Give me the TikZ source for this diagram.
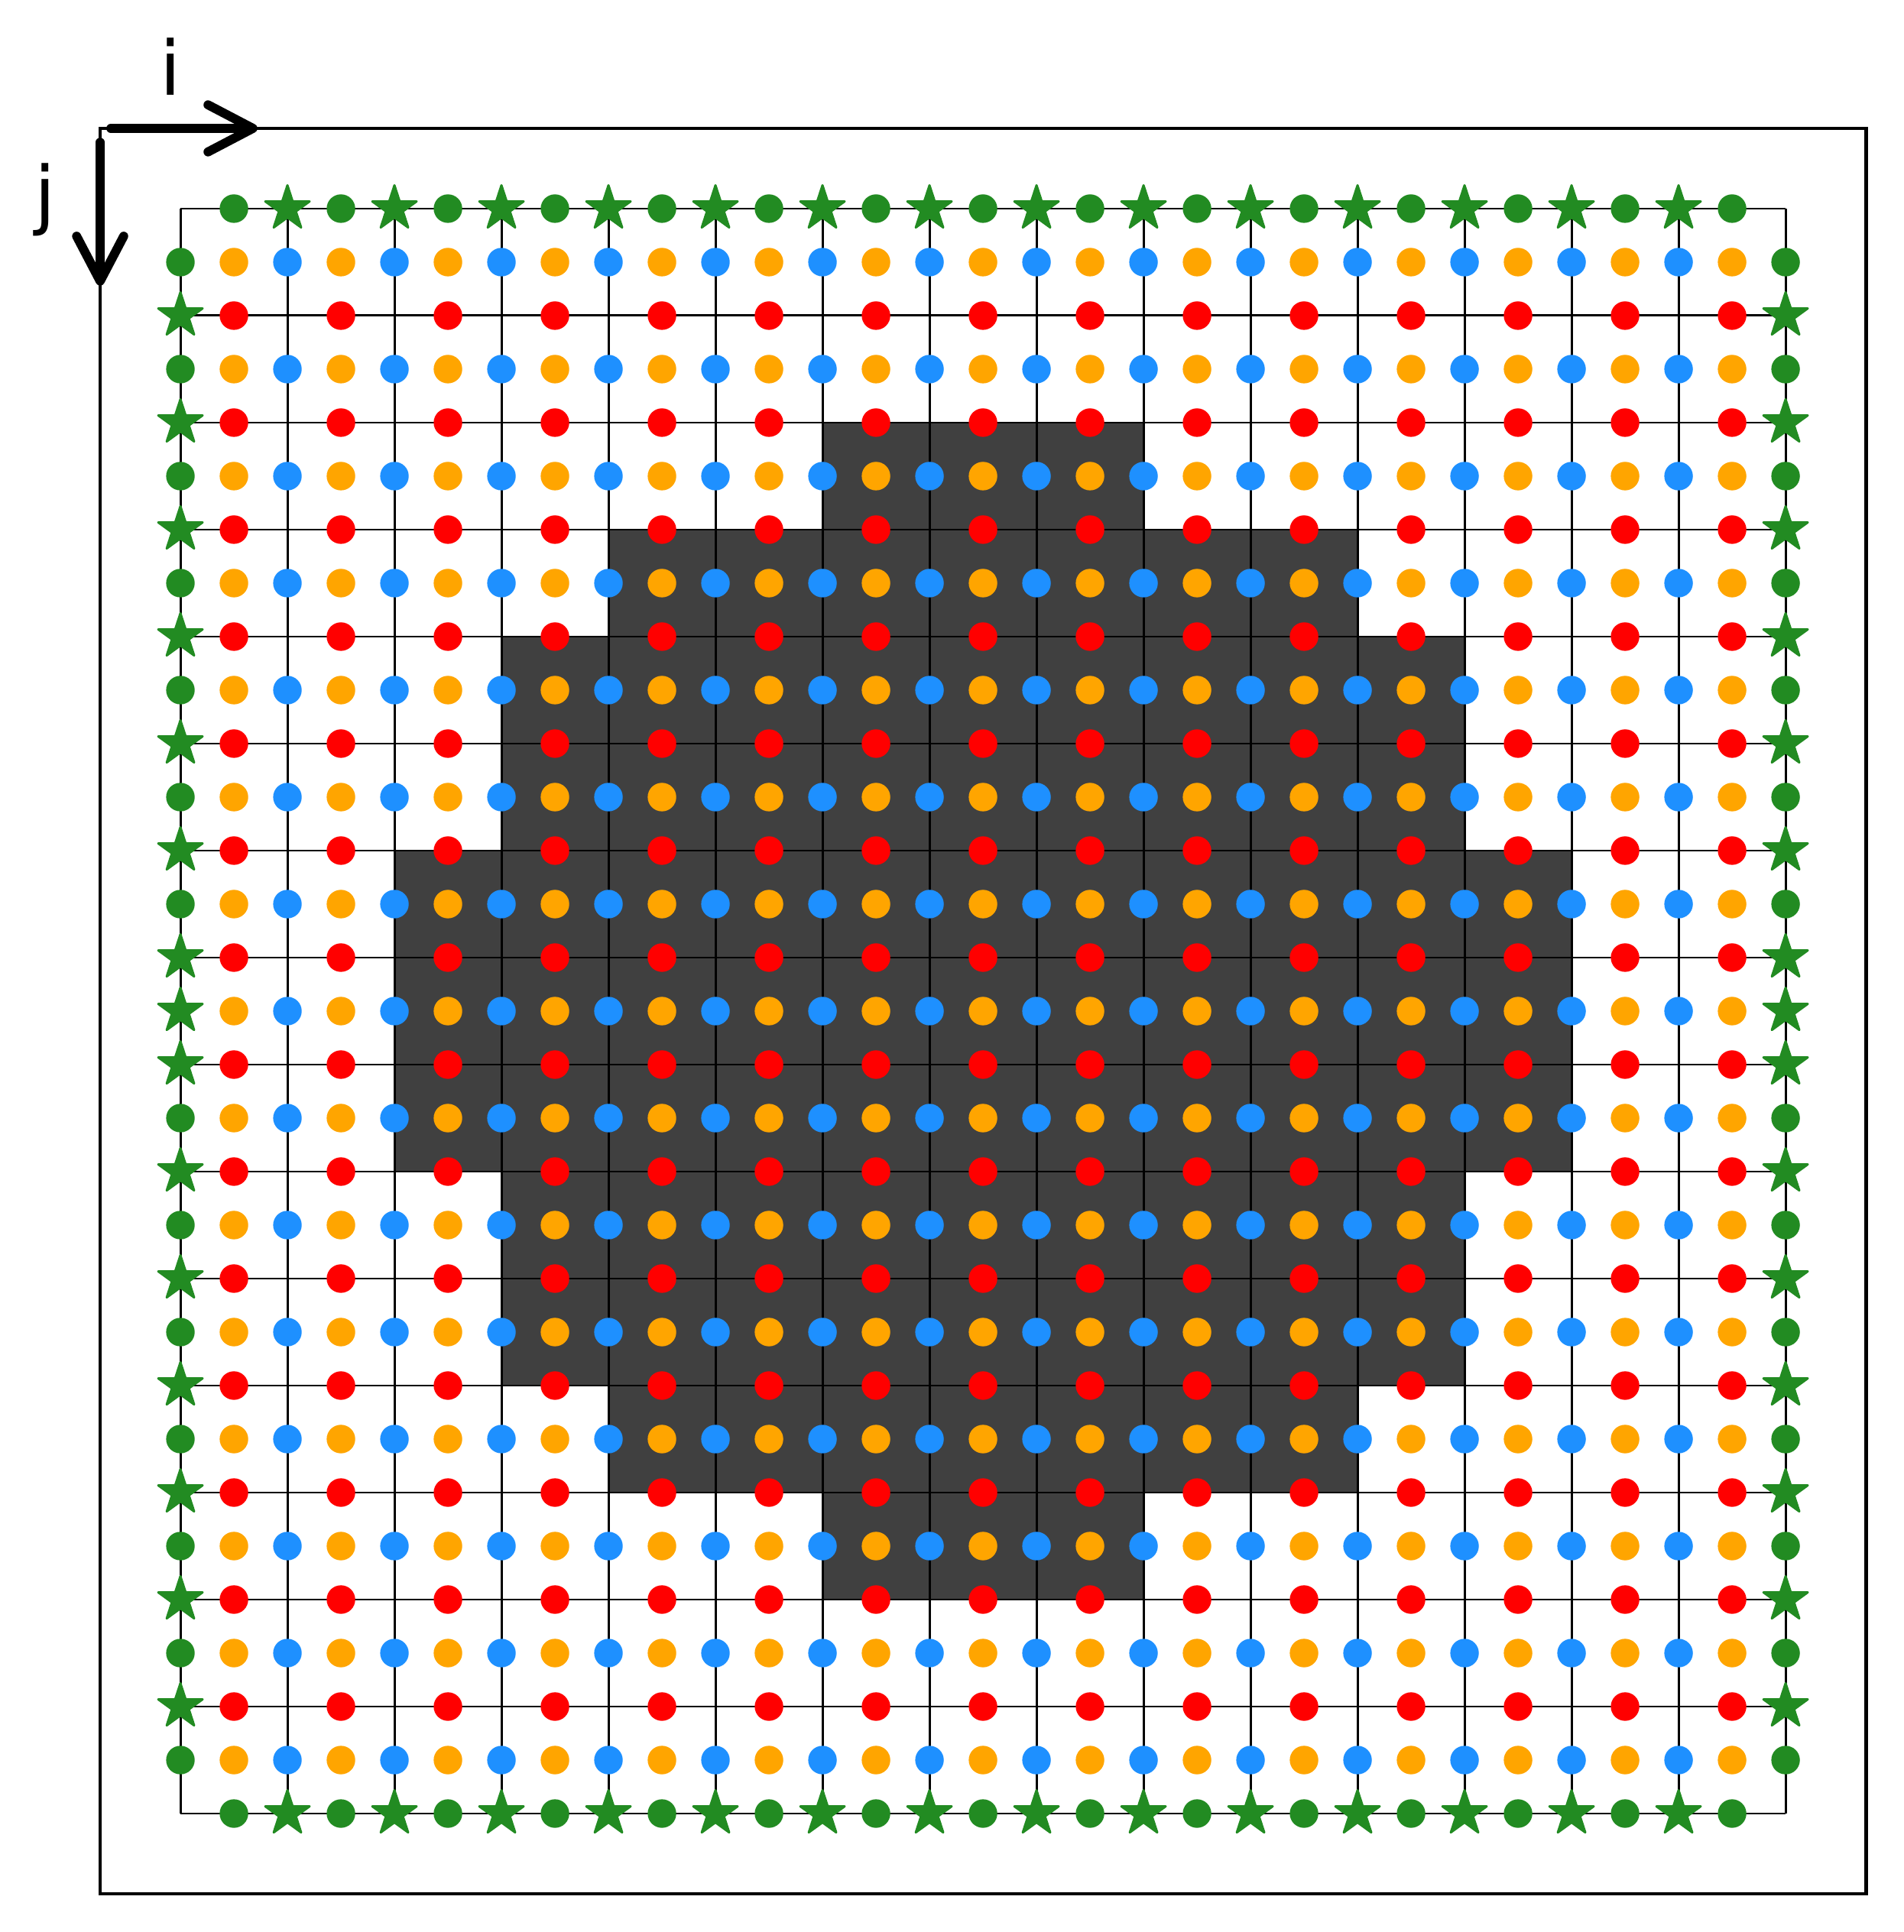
\documentclass[tikz,border=0pt]{standalone}
\usepackage{fontspec}
\setmainfont{DejaVu Sans}
\usetikzlibrary{arrows.meta,shapes.geometric}
\definecolor{fgreen}{RGB}{34,139,34}
\definecolor{dblue}{RGB}{30,144,255}
\definecolor{orng}{RGB}{255,165,0}
\definecolor{cellgray}{RGB}{64,64,64}
\tikzset{
  dot/.style={circle,fill=#1,inner sep=0pt,minimum size=0.267cm},
  bstar/.style={star,star points=5,star point ratio=2.618,fill=fgreen,draw=fgreen,
    line width=0.6pt,line join=round,inner sep=0pt,minimum size=0.436cm},
  axis/.style={line width=2.4pt,line cap=round,
    -{Straight Barb[length=0.42cm,width=0.44cm,line cap=round,line join=round]}},
  lbl/.style={anchor=base,font=\fontsize{20}{24}\selectfont}
}
\begin{document}
\begin{tikzpicture}
\useasboundingbox (-1.686,-1.107) rectangle (16.1,16.95);

% solid cells
\fill[cellgray] (6,12) rectangle (9,13) (4,11) rectangle (11,12)
  (3,9) rectangle (12,11) (2,6) rectangle (13,9) (3,4) rectangle (12,6)
  (4,3) rectangle (11,4) (6,2) rectangle (9,3);

\draw[line width=0.6pt] (0,0) grid (15,15);
\draw[line width=1pt] (-0.75,-0.75) rectangle (15.75,15.75);

% axes
\coordinate (corner) at (-0.75,15.75);
\coordinate (iend) at (0.72,15.75);
\coordinate (jend) at (-0.75,14.28);
\draw[axis,shorten <=0.1cm] (corner) -- (iend);
\draw[axis,shorten <=0.13cm] (corner) -- (jend);
\node[lbl] (ilabel) at (-0.093,16.057) {i};
\node[lbl] (jlabel) at (-1.264,14.89) {j};

% centres, u and v points
\foreach \i in {0,...,14}
  \foreach \j in {0,...,14}
    \node[dot=orng] (c-\i-\j) at (\i+0.5,\j+0.5) {};
\foreach \i in {1,...,14}
  \foreach \j in {0,...,14} {
    \node[dot=dblue] (u-\i-\j) at (\i,\j+0.5) {};
    \node[dot=red] (v-\j-\i) at (\j+0.5,\i) {};
  }

% boundary
\foreach \i in {0,...,14} {
  \node[dot=fgreen] (bs-\i) at (\i+0.5,0) {};
  \node[dot=fgreen] (bn-\i) at (\i+0.5,15) {};
}
\foreach \i in {1,...,14} {
  \node[bstar] (ss-\i) at (\i,0) {};
  \node[bstar] (sn-\i) at (\i,15) {};
  \node[bstar] (sw-\i) at (0,\i) {};
  \node[bstar] (se-\i) at (15,\i) {};
}
\foreach \j in {0,...,6,8,9,...,14} {
  \node[dot=fgreen] (bw-\j) at (0,\j+0.5) {};
  \node[dot=fgreen] (be-\j) at (15,\j+0.5) {};
}
\node[bstar] (sw-mid) at (0,7.5) {};
\node[bstar] (se-mid) at (15,7.5) {};
\end{tikzpicture}
\end{document}
